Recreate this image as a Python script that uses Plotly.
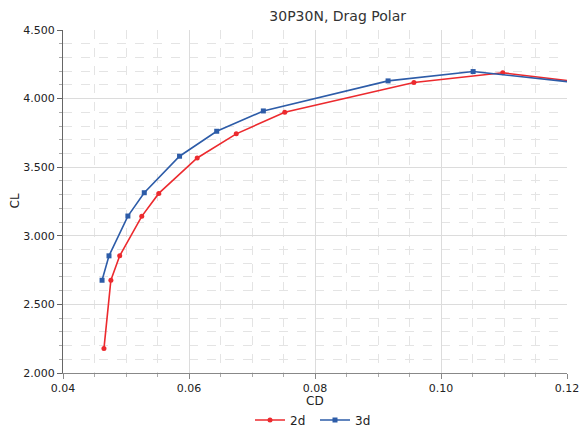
import plotly.graph_objects as go

cd_2d = [0.0465, 0.0476, 0.0490, 0.0525, 0.0552, 0.0613, 0.0675, 0.0752, 0.0957, 0.1098, 0.1250]
cl_2d = [2.178, 2.676, 2.854, 3.142, 3.309, 3.567, 3.743, 3.901, 4.117, 4.188, 4.105]
cd_3d = [0.0462, 0.0473, 0.0503, 0.0529, 0.0585, 0.0644, 0.0718, 0.0916, 0.1051, 0.1250]
cl_3d = [2.676, 2.854, 3.144, 3.314, 3.580, 3.762, 3.910, 4.129, 4.197, 4.099]

RED = "#ec2a2e"
BLUE = "#2d5ca8"
FONT = "DejaVu Sans"

fig = go.Figure()
fig.add_trace(go.Scatter(x=cd_2d, y=cl_2d, name="2d", mode="lines+markers",
                         line=dict(color=RED, width=1.6),
                         marker=dict(symbol="circle", size=5, color=RED)))
fig.add_trace(go.Scatter(x=cd_3d, y=cl_3d, name="3d", mode="lines+markers",
                         line=dict(color=BLUE, width=1.6),
                         marker=dict(symbol="square", size=5, color=BLUE)))

fig.update_layout(
    width=580, height=428,
    margin=dict(l=63, r=13, t=30, b=55, autoexpand=False),
    paper_bgcolor="white", plot_bgcolor="white",
    font=dict(family=FONT, size=11, color="#222"),
    title=dict(text="30P30N, Drag Polar", x=0.545, xanchor="center",
               xref="paper", y=1 - 16 / 428, yanchor="middle",
               font=dict(family=FONT, size=14, color="#333")),
    showlegend=True,
    legend=dict(orientation="h", x=0.5, xanchor="center", xref="paper",
                y=1 - 420 / 428, yanchor="middle", yref="container",
                font=dict(size=12), itemwidth=30, entrywidth=20, entrywidthmode="pixels",
                tracegroupgap=0, bgcolor="rgba(0,0,0,0)"),
    annotations=[
        dict(text="CD", xref="paper", x=0.5, yref="paper", y=-19 / 343,
             yanchor="top", showarrow=False, font=dict(size=12, color="#222")),
        dict(text="CL", xref="paper", x=-49 / 504, xanchor="center", yref="paper", y=0.5,
             textangle=-90, showarrow=False, font=dict(size=12, color="#222")),
    ],
)
fig.update_xaxes(
    range=[0.04, 0.12], dtick=0.02, tickformat=".2f", automargin=False,
    showgrid=True, gridcolor="#dcdcdc", gridwidth=1,
    showline=True, linecolor="#888", linewidth=1,
    ticks="outside", ticklen=5, tickcolor="#888",
    minor=dict(dtick=0.005, showgrid=True, gridcolor="#e4e4e4", griddash="dash",
               ticks="outside", ticklen=3, tickcolor="#aaa"),
    zeroline=False,
)
fig.update_yaxes(
    range=[2.0, 4.5], dtick=0.5, tickformat=".3f", automargin=False,
    showgrid=True, gridcolor="#dcdcdc", gridwidth=1,
    showline=True, linecolor="#666", linewidth=1,
    ticks="outside", ticklen=5, tickcolor="#666",
    minor=dict(dtick=0.1, showgrid=True, gridcolor="#e4e4e4", griddash="dash",
               ticks="outside", ticklen=3, tickcolor="#aaa"),
    zeroline=False,
)

fig.write_html("out.html")
